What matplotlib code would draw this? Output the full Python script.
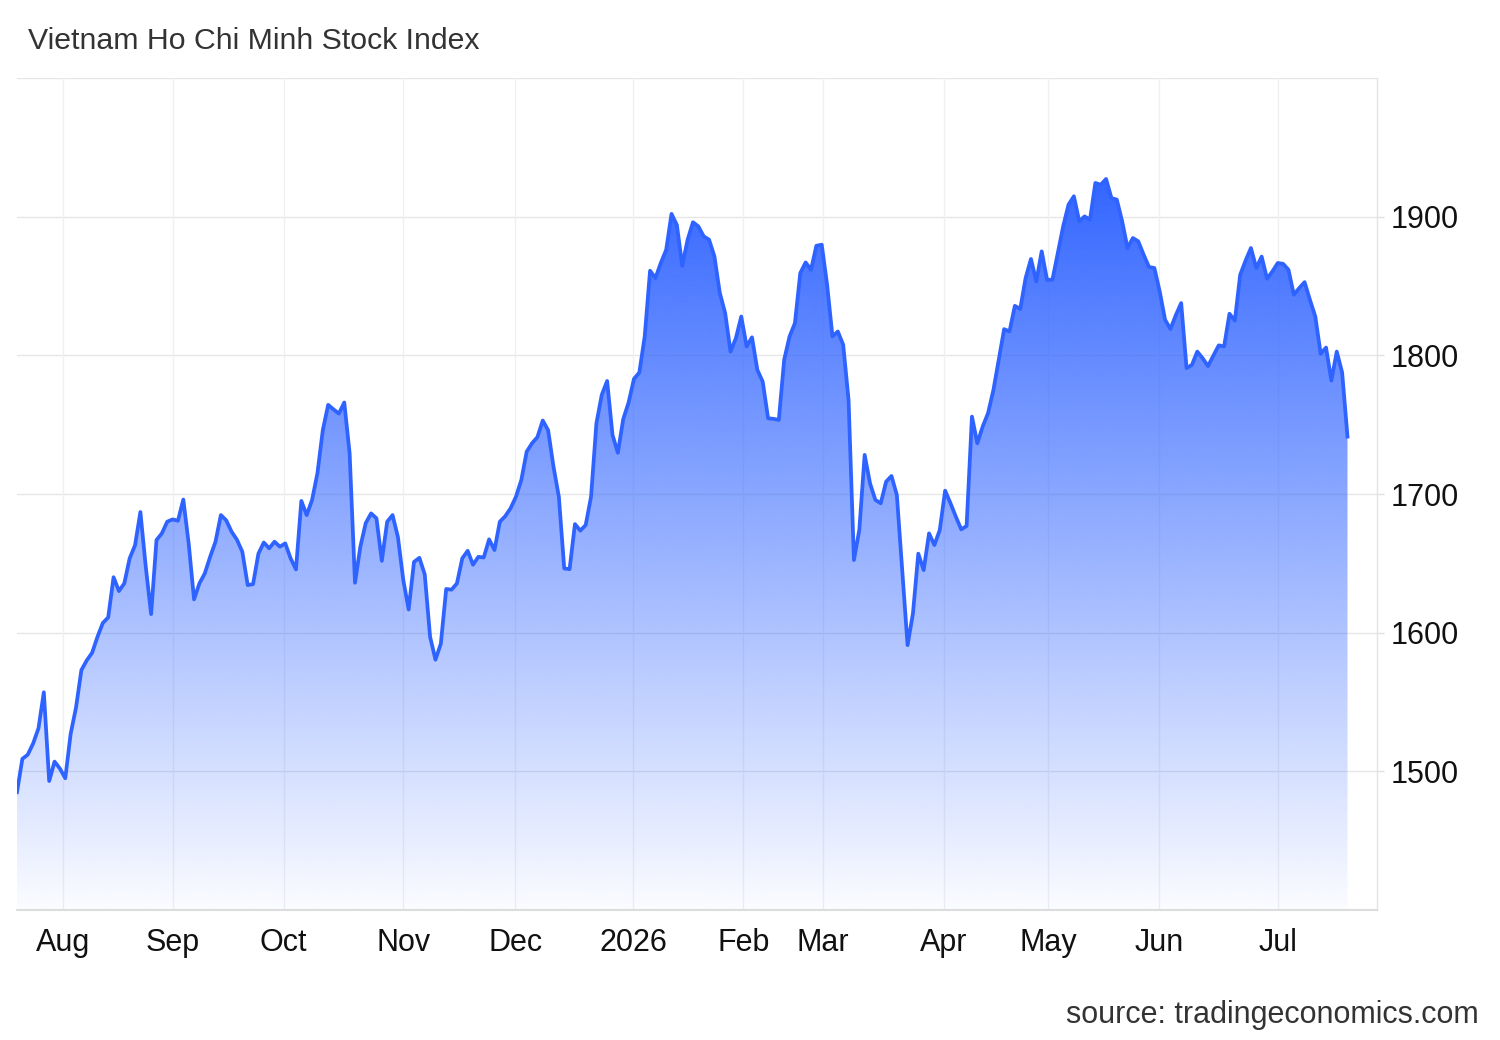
import numpy as np
import matplotlib
matplotlib.use("Agg")
import matplotlib.pyplot as plt
from matplotlib.patches import Polygon

# ---- data (trading-day index) ----
values = [
    1485, 1509, 1512, 1520, 1531, 1557, 1493, 1507, 1502, 1495,
    1527, 1546, 1573, 1580, 1585.5, 1597, 1607, 1611, 1640, 1630,
    1635.5, 1653.6, 1663, 1687, 1647.5, 1613.4, 1666.8, 1671.6, 1680, 1681.7,
    1680.7, 1696, 1664.4, 1624, 1635.5, 1642.7, 1654.7, 1665.6, 1684.8, 1681,
    1672.8, 1667, 1658.3, 1634.3, 1635, 1657, 1665, 1660.8, 1665.6, 1662,
    1664.4, 1653.6, 1645.6, 1695, 1684.8, 1695.7, 1715, 1746, 1764.3, 1761,
    1758, 1766, 1729.4, 1636, 1662, 1679, 1686, 1682.5, 1651.8, 1680,
    1684.8, 1669, 1638, 1616.7, 1651, 1654, 1642, 1597, 1580.5, 1592,
    1631.5, 1631, 1635.5, 1653.6, 1659, 1649, 1654.7, 1654.2, 1667.3, 1659.6,
    1680, 1684, 1689.7, 1698, 1710, 1730.5, 1736.6, 1741, 1753, 1746,
    1719.7, 1698, 1646.3, 1645.8, 1678.3, 1673.6, 1677.6, 1698, 1751, 1771.5,
    1781.5, 1742.6, 1729.7, 1754, 1766, 1783, 1787.6, 1813.6, 1861, 1855.7,
    1866.6, 1876, 1902, 1894, 1864.6, 1883.4, 1896, 1893, 1885.8, 1883.4,
    1871.3, 1845, 1830.5, 1802.7, 1812.4, 1828, 1806.4, 1813, 1789.5, 1781,
    1754.6, 1754.2, 1753.4, 1796.8, 1813.6, 1823.2, 1859.3, 1867, 1861.7, 1879,
    1879.8, 1851, 1813.6, 1817.2, 1807.6, 1767.9, 1652.4, 1674, 1728.2, 1707.7,
    1695.7, 1693.3, 1708.9, 1713, 1699.3, 1645, 1591, 1613.8, 1657, 1645.1,
    1671.6, 1663.2, 1674, 1702.4, 1693.3, 1683.6, 1674.5, 1676.9, 1755.8, 1736.6,
    1748.6, 1758.3, 1775, 1796.8, 1818.9, 1817.2, 1835.7, 1833.4, 1855.7, 1869.5,
    1853.3, 1875, 1854.5, 1854.5, 1873.8, 1893, 1908.7, 1914.7, 1896.6, 1900.2,
    1897.8, 1924.3, 1923, 1927.2, 1913.4, 1912.3, 1896.6, 1877.4, 1884.6, 1882.2,
    1872.6, 1863.7, 1863, 1846, 1825.6, 1819, 1829, 1837.7, 1790.8, 1793.1,
    1802.7, 1797.9, 1792.2, 1799.8, 1807.2, 1806.4, 1830, 1825, 1858.1, 1868.3,
    1877.4, 1863, 1871.2, 1855.3, 1860.5, 1866.6, 1866, 1861.7, 1843.7, 1848.5,
    1852.8, 1840, 1828, 1801.1, 1805.6, 1781.8, 1802.7, 1787.6, 1741.4,
]
month_labels = ["Aug", "Sep", "Oct", "Nov", "Dec", "2026", "Feb", "Mar",
                "Apr", "May", "Jun", "Jul"]
month_pos = [8.6, 29.1, 49.7, 72.0, 92.9, 114.9, 135.4, 150.2, 172.7, 192.2, 212.9, 235.0]
y_ticks = [1500, 1600, 1700, 1800, 1900]

title = "Vietnam Ho Chi Minh Stock Index"
source = "source: tradingeconomics.com"

# ---- figure ----
plt.rcParams["font.family"] = ["Liberation Sans", "DejaVu Sans"]
W, H = 1500, 1040
fig = plt.figure(figsize=(W / 100, H / 100), dpi=100)
ax = fig.add_axes([17 / W, 1 - 910 / H, (1377 - 17) / W, (910 - 78) / H])

x = np.arange(len(values))
y = np.array(values, dtype=float)
ymin, ymax = 1400, 2000
ax.set_xlim(0, 253.5)
ax.set_ylim(ymin, ymax)

line_color = "#2f63ff"

# gradient fill clipped to area under the curve
top = y.max()
n = 400
t = np.linspace(0, 1, n)[:, None]  # 0 bottom -> 1 top
alpha = 0.02 + 0.98 * t
rgba = np.zeros((n, 1, 4))
rgba[..., 0] = 0x33 / 255
rgba[..., 1] = 0x66 / 255
rgba[..., 2] = 1.0
rgba[..., 3] = alpha
im = ax.imshow(rgba, extent=[x[0], x[-1], ymin, top], origin="lower",
               aspect="auto", zorder=2, interpolation="bilinear")
verts = np.column_stack([np.r_[x[0], x, x[-1]], np.r_[ymin, y, ymin]])
poly = Polygon(verts, closed=True, facecolor="none", edgecolor="none")
ax.add_patch(poly)
im.set_clip_path(poly)

ax.plot(x, y, color=line_color, lw=2.7, zorder=3, solid_joinstyle="round")

# grid & axes styling
ax.set_yticks(y_ticks)
ax.set_xticks(month_pos)
ax.set_xticklabels(month_labels)
for yy in [1500, 1600, 1700, 1800, 1900, 2000]:
    ax.axhline(yy, color="#e6e6e6", lw=1.0, zorder=1)
for xx in month_pos:
    ax.axvline(xx, color="#eef0f3", lw=1.0, zorder=1)

for s in ["left", "top"]:
    ax.spines[s].set_visible(False)
ax.spines["right"].set_color("#e3e3e3")
ax.spines["right"].set_linewidth(1.0)
ax.spines["bottom"].set_color("#dcdcdc")
ax.spines["bottom"].set_linewidth(1.5)

ax.yaxis.tick_right()
ax.tick_params(axis="y", length=5, width=1, color="#e0e0e0", pad=5,
               labelsize=22, labelcolor="#111111")
ax.tick_params(axis="x", length=0, pad=13, labelsize=22, labelcolor="#111111")

fig.text(28 / W, 1 - 41 / H, title, fontsize=21.8, color="#333333",
         ha="left", va="center")
fig.text(1479 / W, 1 - 1015 / H, source, fontsize=22, color="#333333",
         ha="right", va="center")

fig.savefig("out.png", dpi=100)
